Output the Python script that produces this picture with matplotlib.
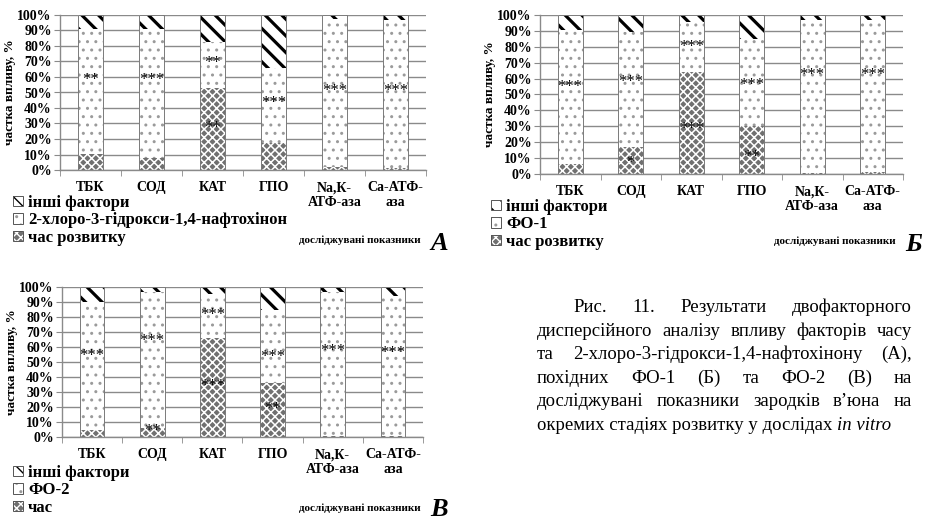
import matplotlib.pyplot as plt
from matplotlib.patches import Patch
import numpy as np

plt.rcParams['font.family'] = ['Liberation Serif', 'DejaVu Serif']

W, H = 931, 520

categories = ['ТБК', 'СОД', 'КАТ', 'ГПО', 'Na,К-\nАТФ-аза', 'Са-АТФ-\nаза']

# panel A: час розвитку / 2-хлоро-3-гідрокси-1,4-нафтохінон / інші фактори
a_time = [10.5, 7.5, 53, 17.5, 2, 1.5]
a_chem = [80.5, 83.5, 29.5, 48.5, 95.5, 95]
a_other = [9, 9, 17.5, 34, 2.5, 3.5]
a_chem_stars = ['**', '***', '**', '***', '***', '***']
a_chem_star_y = [58, 58, 69, 43, 51, 51]
a_time_stars = ['', '', '**', '', '', '']
a_time_star_y = [0, 0, 27, 0, 0, 0]

# panel Б: час розвитку / ФО-1 / інші фактори
b_time = [6, 17, 64, 30.5, 0.5, 1.5]
b_chem = [84.5, 72, 31.5, 54.5, 96.5, 95.5]
b_other = [9.5, 11, 4.5, 15, 3, 3]
b_chem_stars = ['***', '***', '***', '***', '***', '***']
b_chem_star_y = [55, 58, 80, 56, 62, 62]
b_time_stars = ['', '*', '***', '**', '', '']
b_time_star_y = [0, 7, 28, 11, 0, 0]

# panel В: час / ФО-2 / інші фактори
c_time = [5, 6, 66, 36, 0.5, 1]
c_chem = [85, 91, 29.5, 49, 96.5, 93]
c_other = [10, 3, 4.5, 15, 3, 6]
c_chem_stars = ['***', '***', '***', '***', '***', '***']
c_chem_star_y = [54, 64, 81, 53, 57, 56]
c_time_stars = ['', '**', '***', '**', '', '']
c_time_star_y = [0, 4, 34, 19, 0, 0]

caption = [
    'Рис. 11. Результати двофакторного',
    'дисперсійного аналізу впливу факторів часу',
    'та 2-хлоро-3-гідрокси-1,4-нафтохінону (А),',
    'похідних ФО-1 (Б) та ФО-2 (В) на',
    'досліджувані показники зародків в’юна на',
]
caption_last = 'окремих стадіях розвитку у дослідах'
caption_italic = 'in vitro'

GRID = '#8a8a8a'

fig = plt.figure(figsize=(W / 100, H / 100), dpi=100)


def px_rect(x0, y0, x1, y1):
    return [x0 / W, 1 - y1 / H, (x1 - x0) / W, (y1 - y0) / H]


def styles():
    time_st = dict(facecolor='#707070', edgecolor='white', hatch='xxxx', lw=0)
    mid_st = dict(facecolor='white', edgecolor='#9a9a9a', hatch='..', lw=0)
    oth_st = dict(facecolor='white', edgecolor='black', hatch='\\\\', lw=0)
    return time_st, mid_st, oth_st


def set_hlw(bars, w):
    for p in bars:
        if hasattr(p, 'set_hatch_linewidth'):
            p.set_hatch_linewidth(w)


def panel(rect, time, mid, other, mid_stars, mid_y, time_stars, time_y,
          labels, leg_xy, note_xy, letter, letter_xy):
    ax = fig.add_axes(rect)
    x = np.arange(len(categories))
    bw = 0.41
    ts, ms, os_ = styles()
    b1 = ax.bar(x, time, bw, zorder=2, **ts)
    set_hlw(b1, 1.1)
    b2 = ax.bar(x, mid, bw, bottom=time, zorder=2, **ms)
    set_hlw(b2, 1.0)
    base = np.array(time) + np.array(mid)
    b3 = ax.bar(x, other, bw, bottom=base, zorder=2, **os_)
    set_hlw(b3, 2.3)
    ax.bar(x, base + np.array(other), bw, fill=False, edgecolor='#7a7a7a',
           lw=0.7, zorder=3)
    for i in x:
        if mid_stars[i]:
            ax.text(i, mid_y[i], mid_stars[i], ha='center', va='center',
                    fontsize=12, color='black', zorder=4)
        if time_stars[i]:
            ax.text(i, time_y[i], time_stars[i], ha='center', va='center',
                    fontsize=12, color='black', zorder=4)

    ax.set_xlim(-0.5, len(categories) - 0.5)
    ax.set_ylim(0, 100)
    ax.set_yticks(np.arange(0, 101, 10))
    ax.set_yticklabels([f'{v}%' for v in range(0, 101, 10)],
                       fontsize=10, fontweight='bold')
    ax.set_xticks(x)
    ax.set_xticklabels(categories, fontsize=10, fontweight='bold',
                       linespacing=1.15)
    ax.set_xticks(np.arange(-0.5, len(categories), 1), minor=True)
    ax.tick_params(axis='x', which='major', length=0, pad=8)
    ax.tick_params(axis='x', which='minor', length=4, color=GRID)
    ax.tick_params(axis='y', length=4, color=GRID, pad=2)
    ax.grid(axis='y', color=GRID, lw=1)
    ax.set_axisbelow(True)
    for s in ['top', 'right']:
        ax.spines[s].set_visible(False)
    for s in ['left', 'bottom']:
        ax.spines[s].set_color(GRID)
        ax.spines[s].set_linewidth(1)
    ax.set_ylabel('частка впливу, %', fontsize=9.5, fontweight='bold',
                  labelpad=1)

    handles = []
    for st in (os_, ms, ts):
        p = Patch(**st)
        set_hlw([p], 1.5)
        frame = Patch(fill=False, edgecolor='#555555', lw=0.7)
        handles.append((p, frame))
    fig.legend(handles, labels, loc='upper left',
               bbox_to_anchor=(leg_xy[0] / W, 1 - leg_xy[1] / H),
               frameon=False, prop=dict(size=12, weight='bold'),
               handlelength=0.6, handleheight=0.6, handletextpad=0.3,
               labelspacing=0.08, borderpad=0, borderaxespad=0)
    fig.text(note_xy[0] / W, 1 - note_xy[1] / H, 'досліджувані показники',
             fontsize=8, fontweight='bold', ha='right', va='baseline')
    fig.text(letter_xy[0] / W, 1 - letter_xy[1] / H, letter, fontsize=19,
             fontweight='bold', style='italic', ha='left', va='baseline')
    return ax


panel(px_rect(60, 15, 426, 170), a_time, a_chem, a_other,
      a_chem_stars, a_chem_star_y, a_time_stars, a_time_star_y,
      ['інші фактори', '2-хлоро-3-гідрокси-1,4-нафтохінон', 'час розвитку'],
      (13, 195), (421, 243), 'А', (430, 250))

panel(px_rect(540, 15, 903, 174), b_time, b_chem, b_other,
      b_chem_stars, b_chem_star_y, b_time_stars, b_time_star_y,
      ['інші фактори', 'ФО-1', 'час розвитку'],
      (491, 199), (896, 244), 'Б', (905, 251))

panel(px_rect(62, 287, 423, 437), c_time, c_chem, c_other,
      c_chem_stars, c_chem_star_y, c_time_stars, c_time_star_y,
      ['інші фактори', 'ФО-2', 'час'],
      (13, 465), (421, 511), 'В', (430, 516))

# caption, justified like the source page
renderer = fig.canvas.get_renderer()


def text_w(s, fs, style='normal'):
    t = fig.text(0, 0, s, fontsize=fs, style=style)
    w = t.get_window_extent(renderer).width
    t.remove()
    return w


fs = 14
natural = text_w(caption_last + ' ' + caption_italic, fs)
fs = fs * 356 / natural

x_right = 912
baselines = [312, 336, 359, 383, 406, 430]
for k, line in enumerate(caption):
    x0 = 573 if k == 0 else 537
    words = line.split(' ')
    widths = [text_w(w, fs) for w in words]
    gap = (x_right - x0 - sum(widths)) / (len(words) - 1)
    xx = x0
    for w, ww in zip(words, widths):
        fig.text(xx / W, 1 - baselines[k] / H, w, fontsize=fs,
                 ha='left', va='baseline')
        xx += ww + gap

space = text_w('a b', fs) - text_w('ab', fs)
xx = 537
fig.text(xx / W, 1 - baselines[5] / H, caption_last, fontsize=fs,
         ha='left', va='baseline')
xx += text_w(caption_last, fs) + space
fig.text(xx / W, 1 - baselines[5] / H, caption_italic, fontsize=fs,
         style='italic', ha='left', va='baseline')

fig.savefig('out.png', dpi=100)
